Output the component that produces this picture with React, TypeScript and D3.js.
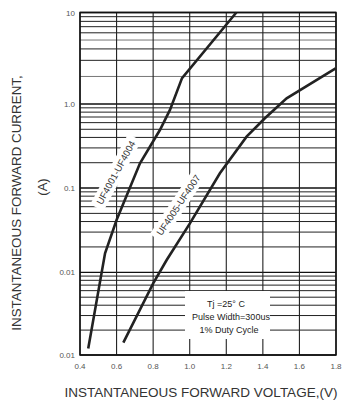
import React from "react";
import * as d3 from "d3";

const W = 342;
const H = 400;
const plot = { left: 80, right: 336, top: 12.5, bottom: 355 };

// tick labels (the bottom one reads 0.01 in the original too)
const xTicks = [0.4, 0.6, 0.8, 1.0, 1.2, 1.4, 1.6, 1.8];
const xTickLabels = ["0.4", "0.6", "0.8", "1.0", "1.2", "1.4", "1.6", "1.8"];
const yTicks = [10, 1, 0.1, 0.01, 0.001];
const yTickLabels = ["10", "1.0", "0.1", "0.01", "0.01"];
const decades = [0.001, 0.01, 0.1, 1];
const minorSteps = [2, 3, 4, 5, 6, 7, 8, 9];

// UF4001-UF4004
const lowV = [0.445, 0.537, 0.6, 0.728, 0.837, 0.892, 0.958, 1.255];
const lowI = [0.0012, 0.0168, 0.0417, 0.197, 0.49, 0.85, 1.92, 10];
// UF4005-UF4007
const highV = [0.637, 0.801, 0.874, 1.001, 1.165, 1.311, 1.411, 1.53, 1.798];
const highI = [0.00141, 0.0074, 0.014, 0.0381, 0.15, 0.408, 0.676, 1.154, 2.455];

const font = "'Liberation Sans', Arial, sans-serif";

export default function App() {
  const x = d3.scaleLinear().domain([0.4, 1.8]).range([plot.left, plot.right]);
  // scanned sheet: decades are not quite even, so piecewise log
  const y = d3
    .scaleLog()
    .domain([0.001, 0.01, 0.1, 1, 10])
    .range([plot.bottom, 272.3, 188, 104, plot.top]);

  const line = d3
    .line<number>()
    .x((v) => x(v))
    .y((_, i) => 0);

  const path = (vs: number[], is: number[]) =>
    d3
      .line<[number, number]>()
      .x((d) => x(d[0]))
      .y((d) => y(d[1]))(vs.map((v, i) => [v, is[i]] as [number, number])) || "";

  const minors: number[] = [];
  decades.forEach((d) => minorSteps.forEach((k) => minors.push(d * k)));

  const labels = [
    { text: "UF4001-UF4004", cx: 115.8, cy: 172.5, angle: -61.7 },
    { text: "UF4005-UF4007", cx: 178.3, cy: 205, angle: -56.3 },
  ];

  return (
    <svg
      width={W}
      height={H}
      style={{ position: "absolute", left: 0, top: 0, background: "#fff" }}
      fontFamily={font}
    >
      {/* horizontal grid */}
      {minors.map((v, i) => (
        <line
          key={"m" + i}
          x1={plot.left}
          x2={plot.right}
          y1={y(v)}
          y2={y(v)}
          stroke={v > 1 && (v < 3 || v === 5) ? "#777" : "#222"}
          strokeWidth={1}
        />
      ))}
      {yTicks.map((v, i) => (
        <line
          key={"d" + i}
          x1={plot.left}
          x2={plot.right}
          y1={y(v)}
          y2={y(v)}
          stroke="#111"
          strokeWidth={1.3}
        />
      ))}
      {/* vertical grid */}
      {xTicks.map((v, i) => (
        <line
          key={"v" + i}
          x1={x(v)}
          x2={x(v)}
          y1={plot.top}
          y2={plot.bottom}
          stroke="#222"
          strokeWidth={1.1}
        />
      ))}

      {/* white gaps behind labels */}
      {labels.map((l, i) => (
        <rect
          key={"lb" + i}
          x={-40}
          y={-7.5}
          width={80}
          height={15}
          fill="#fff"
          transform={`translate(${l.cx},${l.cy}) rotate(${l.angle})`}
        />
      ))}
      <rect x={185} y={291} width={85} height={48} fill="#fff" />

      {/* border */}
      <rect
        x={plot.left}
        y={plot.top}
        width={plot.right - plot.left}
        height={plot.bottom - plot.top}
        fill="none"
        stroke="#111"
        strokeWidth={1.5}
      />

      {/* curves */}
      <path d={path(lowV, lowI)} fill="none" stroke="#222" strokeWidth={2.6} />
      <path d={path(highV, highI)} fill="none" stroke="#222" strokeWidth={2.6} />

      {labels.map((l, i) => (
        <text
          key={"lt" + i}
          transform={`translate(${l.cx},${l.cy}) rotate(${l.angle})`}
          textAnchor="middle"
          dominantBaseline="central"
          fontSize={9.5}
          fill="#333"
        >
          {l.text}
        </text>
      ))}

      {/* conditions */}
      <g fontSize={9} fill="#222" textAnchor="middle">
        <text x={226} y={307}>Tj =25° C</text>
        <text x={231} y={320}>Pulse Width=300us</text>
        <text x={229} y={333}>1% Duty Cycle</text>
      </g>

      {/* tick labels */}
      {xTicks.map((v, i) => (
        <text
          key={"xt" + i}
          x={x(v)}
          y={369}
          textAnchor="middle"
          fontSize={8}
          fill="#555"
        >
          {xTickLabels[i]}
        </text>
      ))}
      {yTicks.map((v, i) => (
        <text
          key={"yt" + i}
          x={75}
          y={y(v) + 3}
          textAnchor="end"
          fontSize={8}
          fill="#555"
        >
          {yTickLabels[i]}
        </text>
      ))}

      {/* axis titles */}
      <text x={201} y={396.5} textAnchor="middle" fontSize={13.5} fill="#333">
        INSTANTANEOUS FORWARD VOLTAGE,(V)
      </text>
      <text
        transform={`translate(20.5,203) rotate(-90)`}
        textAnchor="middle"
        fontSize={13.4}
        fill="#333"
      >
        INSTANTANEOUS FORWARD CURRENT,
      </text>
      <text
        transform={`translate(46.5,187) rotate(-90)`}
        textAnchor="middle"
        fontSize={13}
        fill="#333"
      >
        (A)
      </text>
    </svg>
  );
}
